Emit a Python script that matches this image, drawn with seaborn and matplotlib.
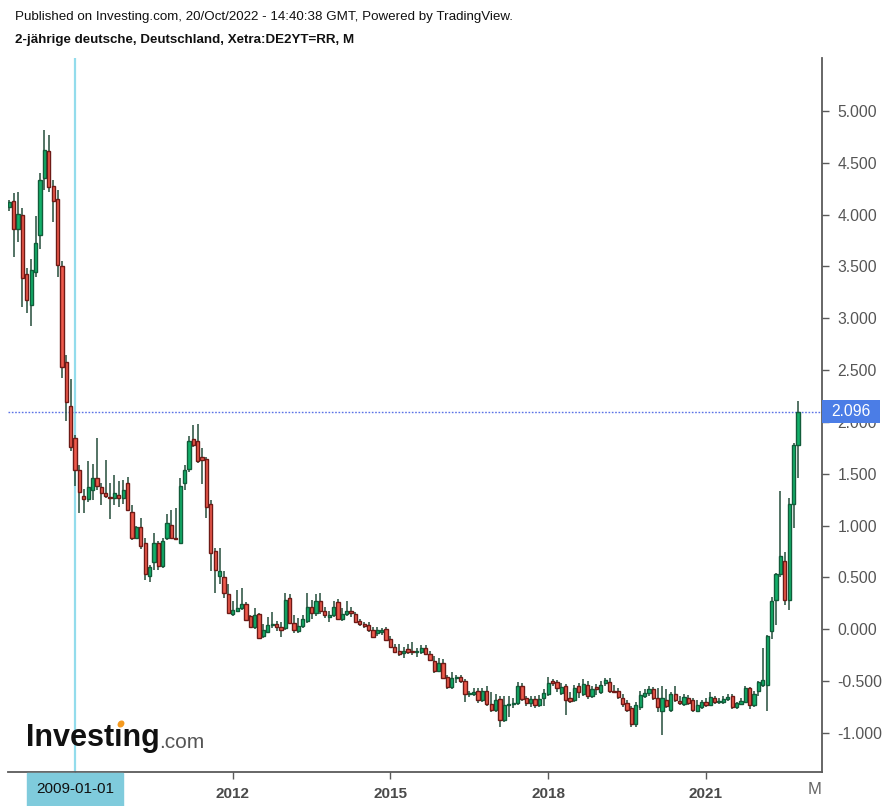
import numpy as np
import pandas as pd
import matplotlib
matplotlib.use("Agg")
import matplotlib.pyplot as plt
import matplotlib.transforms as mtransforms
from matplotlib.patches import Ellipse, Rectangle
import seaborn as sns

# --- monthly candles, 2007-10 .. 2022-10 (DE 2Y yield, %) ---
start_month = "2007-10"
end_month = "2022-10"

opens = [
    4.07, 4.13, 3.86,                                                          # 2007
    4.00, 3.43, 3.13, 3.45, 3.80, 4.35, 4.61, 4.28, 4.15, 3.50, 2.58, 2.15,    # 2008
    1.85, 1.54, 1.29, 1.26, 1.34, 1.46, 1.37, 1.31, 1.28, 1.27, 1.30, 1.27,    # 2009
    1.41, 1.13, 0.88, 0.99, 0.83, 0.51, 0.65, 0.83, 0.61, 0.88, 1.01, 0.88,    # 2010
    0.83, 1.41, 1.55, 1.84, 1.82, 1.66, 1.64, 1.21, 0.76, 0.51, 0.50, 0.34,    # 2011
    0.15, 0.18, 0.21, 0.24, 0.13, 0.02, 0.15, -0.06, -0.03, 0.04, 0.05, 0.02,  # 2012
    0.01, 0.30, 0.06, -0.02, 0.03, 0.08, 0.22, 0.16, 0.27, 0.18, 0.12, 0.14,   # 2013
    0.26, 0.10, 0.15, 0.18, 0.15, 0.08, 0.05, 0.04, -0.01, -0.04, -0.03, 0.00, # 2014
    -0.09, -0.17, -0.21, -0.23, -0.19, -0.21, -0.22, -0.22, -0.18, -0.24, -0.31, -0.40,  # 2015
    -0.32, -0.46, -0.56, -0.47, -0.46, -0.50, -0.62, -0.62, -0.59, -0.68, -0.59, -0.72,  # 2016
    -0.78, -0.67, -0.87, -0.73, -0.72, -0.71, -0.55, -0.66, -0.71, -0.67, -0.73, -0.66,  # 2017
    -0.62, -0.50, -0.51, -0.61, -0.55, -0.66, -0.68, -0.55, -0.62, -0.54, -0.64, -0.56,  # 2018
    -0.60, -0.52, -0.51, -0.59, -0.59, -0.66, -0.71, -0.76, -0.91, -0.75, -0.64, -0.61,  # 2019
    -0.58, -0.66, -0.79, -0.68, -0.78, -0.62, -0.69, -0.72, -0.66, -0.68, -0.79, -0.75,  # 2020
    -0.70, -0.73, -0.66, -0.70, -0.70, -0.67, -0.64, -0.75, -0.72, -0.70, -0.57, -0.73,  # 2021
    -0.59, -0.54, -0.54, -0.02, 0.28, 0.53, 0.66, 0.28, 1.21, 1.78,                      # 2022
]
highs = [
    4.14, 4.21, 4.22,
    4.06, 3.48, 3.57, 3.99, 4.40, 4.82, 4.77, 4.33, 4.24, 3.55, 2.65, 2.41,
    1.87, 1.58, 1.35, 1.62, 1.59, 1.85, 1.41, 1.63, 1.41, 1.49, 1.43, 1.44,
    1.47, 1.20, 1.00, 1.07, 0.88, 0.62, 0.93, 0.85, 0.88, 1.11, 1.15, 1.17,
    1.46, 1.58, 1.86, 1.97, 1.98, 1.75, 1.66, 1.25, 0.78, 0.78, 0.56, 0.44,
    0.27, 0.38, 0.40, 0.26, 0.14, 0.21, 0.16, 0.05, 0.12, 0.17, 0.08, 0.07,
    0.35, 0.34, 0.14, 0.11, 0.14, 0.35, 0.28, 0.34, 0.35, 0.22, 0.18, 0.27,
    0.29, 0.21, 0.27, 0.22, 0.17, 0.10, 0.07, 0.07, 0.02, 0.02, 0.01, 0.02,
    -0.06, -0.14, -0.14, -0.17, -0.14, -0.12, -0.18, -0.15, -0.15, -0.21, -0.26, -0.28,
    -0.29, -0.44, -0.41, -0.44, -0.44, -0.48, -0.59, -0.57, -0.57, -0.57, -0.55, -0.60,
    -0.62, -0.64, -0.64, -0.64, -0.66, -0.51, -0.52, -0.64, -0.64, -0.64, -0.63, -0.58,
    -0.46, -0.48, -0.49, -0.52, -0.53, -0.60, -0.54, -0.52, -0.48, -0.50, -0.55, -0.53,
    -0.50, -0.47, -0.47, -0.54, -0.57, -0.62, -0.68, -0.74, -0.70, -0.59, -0.58, -0.55,
    -0.56, -0.57, -0.55, -0.58, -0.60, -0.55, -0.64, -0.62, -0.63, -0.66, -0.68, -0.68,
    -0.66, -0.60, -0.64, -0.66, -0.64, -0.62, -0.62, -0.70, -0.66, -0.55, -0.56, -0.59,
    -0.50, -0.18, -0.05, 0.31, 0.54, 1.33, 0.75, 1.27, 1.80, 2.20,
]
lows = [
    4.03, 3.59, 3.74,
    3.11, 3.05, 2.93, 3.40, 3.67, 4.24, 4.22, 3.93, 3.40, 2.42, 2.01, 1.72,
    1.38, 1.12, 1.12, 1.23, 1.25, 1.34, 1.20, 1.27, 1.06, 1.20, 1.18, 1.21,
    1.14, 0.86, 0.87, 0.77, 0.48, 0.46, 0.57, 0.57, 0.59, 0.86, 0.87, 0.86,
    0.83, 1.34, 1.52, 1.76, 1.60, 1.40, 1.07, 0.56, 0.35, 0.44, 0.30, 0.16,
    0.13, 0.17, 0.19, 0.09, 0.01, 0.00, -0.09, -0.08, -0.04, 0.01, -0.02, -0.07,
    -0.01, 0.05, -0.04, -0.04, 0.01, 0.06, 0.10, 0.13, 0.15, 0.11, 0.07, 0.12,
    0.09, 0.08, 0.13, 0.12, 0.06, 0.03, 0.01, -0.03, -0.08, -0.06, -0.05, -0.11,
    -0.18, -0.23, -0.26, -0.28, -0.24, -0.25, -0.27, -0.24, -0.25, -0.31, -0.42, -0.41,
    -0.48, -0.58, -0.58, -0.52, -0.52, -0.70, -0.65, -0.64, -0.71, -0.70, -0.74, -0.80,
    -0.80, -0.94, -0.89, -0.85, -0.76, -0.73, -0.69, -0.74, -0.75, -0.76, -0.75, -0.74,
    -0.64, -0.55, -0.60, -0.63, -0.83, -0.71, -0.70, -0.66, -0.64, -0.67, -0.66, -0.63,
    -0.62, -0.55, -0.61, -0.61, -0.67, -0.75, -0.80, -0.94, -0.94, -0.78, -0.66, -0.64,
    -0.68, -0.80, -1.02, -0.76, -0.80, -0.70, -0.73, -0.74, -0.73, -0.80, -0.80, -0.77,
    -0.75, -0.74, -0.72, -0.72, -0.72, -0.69, -0.77, -0.77, -0.73, -0.71, -0.77, -0.75,
    -0.64, -0.56, -0.79, -0.09, 0.04, 0.50, 0.23, 0.19, 0.98, 1.46,
]
closes = [
    4.12, 3.86, 4.01,
    3.39, 3.18, 3.47, 3.73, 4.33, 4.62, 4.27, 4.13, 3.51, 2.53, 2.19, 1.76,
    1.54, 1.32, 1.26, 1.37, 1.46, 1.38, 1.31, 1.29, 1.27, 1.31, 1.27, 1.34,
    1.15, 0.88, 0.99, 0.80, 0.53, 0.60, 0.83, 0.61, 0.85, 1.03, 0.88, 0.87,
    1.38, 1.54, 1.82, 1.78, 1.62, 1.63, 1.18, 0.74, 0.57, 0.56, 0.35, 0.16,
    0.19, 0.21, 0.24, 0.09, 0.02, 0.14, -0.08, -0.01, 0.04, 0.05, 0.02, -0.01,
    0.28, 0.06, -0.01, 0.03, 0.10, 0.22, 0.16, 0.27, 0.18, 0.14, 0.14, 0.22,
    0.10, 0.15, 0.18, 0.16, 0.07, 0.05, 0.03, -0.01, -0.07, -0.01, -0.01, -0.10,
    -0.17, -0.22, -0.24, -0.21, -0.22, -0.22, -0.21, -0.18, -0.24, -0.30, -0.40, -0.32,
    -0.47, -0.56, -0.47, -0.46, -0.50, -0.62, -0.61, -0.60, -0.68, -0.59, -0.72, -0.78,
    -0.68, -0.87, -0.73, -0.72, -0.71, -0.55, -0.67, -0.71, -0.67, -0.73, -0.67, -0.61,
    -0.52, -0.52, -0.57, -0.56, -0.68, -0.69, -0.57, -0.60, -0.53, -0.64, -0.58, -0.58,
    -0.54, -0.49, -0.59, -0.60, -0.65, -0.72, -0.78, -0.91, -0.73, -0.63, -0.61, -0.58,
    -0.66, -0.75, -0.66, -0.74, -0.62, -0.68, -0.71, -0.65, -0.71, -0.78, -0.73, -0.70,
    -0.73, -0.65, -0.70, -0.69, -0.67, -0.65, -0.75, -0.71, -0.69, -0.57, -0.73, -0.62,
    -0.51, -0.49, -0.06, 0.27, 0.53, 0.71, 0.28, 1.21, 1.78, 2.096,
]

last_price = 2.096
crosshair_date = "2009-01"
year_ticks = ["2012-01", "2015-01", "2018-01", "2021-01"]
year_labels = ["2012", "2015", "2018", "2021"]
y_ticks = [-1.0, -0.5, 0.0, 0.5, 1.0, 1.5, 2.0, 2.5, 3.0, 3.5, 4.0, 4.5, 5.0]

months = pd.period_range(start_month, end_month, freq="M")
df = pd.DataFrame({"open": opens, "high": highs, "low": lows, "close": closes},
                  index=months)
df["pos"] = np.arange(len(df))
up = df[df["close"] >= df["open"]]
down = df[df["close"] < df["open"]]

sns.set_theme(style="white")
plt.rcParams["font.family"] = ["Liberation Sans", "DejaVu Sans"]

fig = plt.figure(figsize=(8.94, 8.06), dpi=100)
ax = fig.add_axes([8 / 894, 34 / 806, 814 / 894, 714 / 806])

wick = "#254d3b"
ax.vlines(df["pos"], df["low"], df["high"], color=wick, lw=1.1, zorder=2)
ax.bar(up["pos"], (up["close"] - up["open"]).clip(lower=0.01), bottom=up["open"],
       width=0.74, color="#13b06a", edgecolor="#115c3a", linewidth=1.0, zorder=3)
ax.bar(down["pos"], (down["open"] - down["close"]).clip(lower=0.01), bottom=down["close"],
       width=0.74, color="#ef5a4c", edgecolor="#6e1a16", linewidth=1.0, zorder=3)

x0 = df.index.get_loc(pd.Period(crosshair_date, freq="M"))
ax.set_xlim(x0 - 15.3, x0 + 170.5)
ax.set_ylim(-1.376, 5.51)

# crosshair + last price line
ax.axvline(x0, color="#93dcec", lw=1.6, zorder=1)
ax.axhline(last_price, color="#5b72e6", lw=1.0, ls=(0, (1.2, 1.2)), zorder=1)

# axes styling
for s in ["left", "top"]:
    ax.spines[s].set_visible(False)
for s in ["right", "bottom"]:
    ax.spines[s].set_color("#5a5a5a")
    ax.spines[s].set_linewidth(1.3)

ax.yaxis.tick_right()
ax.set_yticks(y_ticks)
ax.set_yticklabels([f"{v:.3f}" for v in y_ticks])
ax.tick_params(axis="y", direction="out", length=5, width=1, color="#5a5a5a",
               labelsize=11.3, labelcolor="#555555", pad=6, right=True)
xt = [df.index.get_loc(pd.Period(m, freq="M")) for m in year_ticks]
ax.set_xticks([x0] + xt)
ax.set_xticklabels([""] + year_labels, fontweight="bold")
ax.tick_params(axis="x", direction="out", length=5, width=1, color="#5a5a5a",
               labelsize=11, labelcolor="#4a4a4a", pad=6, bottom=True)
ax.grid(False)

# price tag on right axis
blend = mtransforms.blended_transform_factory(ax.transAxes, ax.transData)
tag_w = 58 / 814
tag_h = 23 / 103.67
ax.add_patch(Rectangle((1.0, last_price - tag_h / 2), tag_w, tag_h, transform=blend,
                       facecolor="#4b7de6", edgecolor="none", clip_on=False, zorder=9))
ax.text(1.0 + tag_w / 2, last_price, f"{last_price:.3f}", transform=blend,
        ha="center", va="center", fontsize=11.3, color="white", zorder=10,
        clip_on=False)

# date tag under crosshair
ax.annotate("2009-01-01", xy=(x0, 0), xycoords=("data", "axes fraction"),
            xytext=(0, -12.5), textcoords="offset points", ha="center", va="center",
            fontsize=11, color="#111111", annotation_clip=False, zorder=10,
            bbox=dict(boxstyle="square,pad=0.6", fc="#7fcbdc", ec="#7fcbdc"))

fig.text(815 / 894, 1 - 790 / 806, "M", fontsize=12, color="#666666",
         ha="center", va="center")

# header
fig.text(15 / 894, 1 - 17 / 806,
         "Published on Investing.com, 20/Oct/2022 - 14:40:38 GMT, Powered by TradingView.",
         fontsize=9.6, color="#111111", va="center", ha="left")
fig.text(15 / 894, 1 - 40 / 806, "2-jährige deutsche, Deutschland, Xetra:DE2YT=RR, M",
         fontsize=9.6, fontweight="bold", color="#111111", va="center", ha="left")

# watermark logo
fig.text(26 / 894, 1 - 738 / 806, "Investıng", fontsize=22, fontweight="bold",
         color="#111111", va="center", ha="left")
fig.text(159 / 894, 1 - 742 / 806, ".com", fontsize=15, color="#555555",
         va="center", ha="left")
fig.add_artist(Ellipse((121 / 894, 1 - 724 / 806), 5 / 894, 6 / 806,
                       angle=-30, color="#f59a1f", transform=fig.transFigure))

fig.savefig("out.png", dpi=100)
